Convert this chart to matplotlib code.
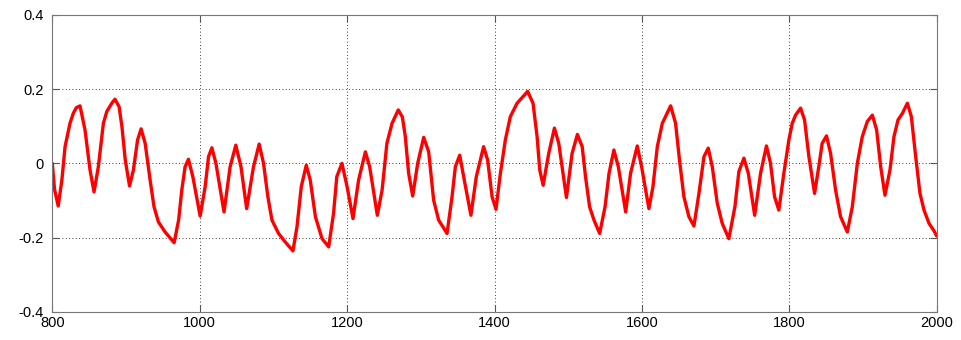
import matplotlib
matplotlib.use("Agg")
import matplotlib.pyplot as plt

years = [800, 803, 808, 813, 817.3, 824, 828.5, 832.5, 837.6, 844.4, 851.2, 856.6, 862.5, 869.3,
         874, 880.7, 885, 890.6, 894.5, 899, 904.8, 910, 915.7, 920.5, 926, 932.7, 938, 944, 953,
         965.3, 971.4, 975.7, 980.2, 984.7, 990.7, 1000.6, 1007.4, 1012, 1016.5, 1022, 1033,
         1041.3, 1049, 1056, 1063.7, 1073, 1080.7, 1086.6, 1092.5, 1098, 1107, 1116, 1126.5, 1132,
         1137.8, 1144.6, 1150, 1157, 1166, 1175, 1181.6, 1186, 1193, 1200, 1208, 1215.6, 1224.8,
         1230.6, 1241, 1247.5, 1254, 1261, 1269.4, 1275, 1279, 1283.5, 1289, 1295.8, 1303.9,
         1310.7, 1317.4, 1324.2, 1335.6, 1342.4, 1346.9, 1352.8, 1359, 1368, 1375.3, 1385.2,
         1390.7, 1396.7, 1402, 1408, 1414.7, 1421.5, 1430.6, 1445, 1452.3, 1457.8, 1461.4, 1466,
         1473.6, 1481.3, 1487.2, 1497.6, 1505.3, 1512.5, 1519, 1523.5, 1529, 1535, 1542.7, 1550,
         1555.4, 1562, 1568, 1578, 1584.6, 1593.7, 1599.6, 1609.5, 1615, 1620.9, 1627.7, 1639,
         1645.7, 1651, 1657, 1663.8, 1670.6, 1677.4, 1684.2, 1690, 1695.5, 1702.3, 1709, 1718,
         1726.2, 1731.6, 1738.4, 1744.4, 1753, 1761, 1769, 1774.5, 1780, 1785.8, 1792.6, 1799.4,
         1804, 1808.5, 1815.3, 1820.7, 1826.6, 1834.3, 1840, 1844.6, 1850.5, 1856, 1862.8, 1869.6,
         1878.7, 1885.5, 1892.3, 1899, 1905.9, 1912.7, 1918.5, 1924, 1929.8, 1936.6, 1942, 1947.5,
         1953.5, 1960.2, 1965.6, 1971.5, 1977.3, 1982.8, 1989.6, 1996.4, 2000]

values = [0.0, -0.07, -0.115, -0.045, 0.045, 0.108, 0.135, 0.15, 0.155, 0.09, -0.018, -0.077,
          -0.009, 0.108, 0.14, 0.162, 0.173, 0.153, 0.099, 0.009, -0.061, -0.018, 0.063, 0.093,
          0.054, -0.045, -0.117, -0.158, -0.185, -0.214, -0.153, -0.072, -0.009, 0.011, -0.036,
          -0.142, -0.063, 0.018, 0.042, 0.0, -0.131, -0.009, 0.049, -0.009, -0.122, -0.009, 0.052,
          0.0, -0.09, -0.153, -0.189, -0.212, -0.236, -0.171, -0.063, -0.005, -0.045, -0.144,
          -0.203, -0.225, -0.135, -0.036, 0.0, -0.063, -0.149, -0.045, 0.031, -0.009, -0.14,
          -0.072, 0.054, 0.108, 0.144, 0.125, 0.072, -0.027, -0.088, 0.0, 0.07, 0.031, -0.099,
          -0.153, -0.189, -0.09, -0.009, 0.022, -0.045, -0.14, -0.036, 0.045, 0.009, -0.09,
          -0.124, -0.027, 0.063, 0.126, 0.162, 0.194, 0.162, 0.072, -0.018, -0.059, 0.027, 0.095,
          0.054, -0.092, 0.027, 0.078, 0.045, -0.036, -0.117, -0.153, -0.189, -0.117, -0.027,
          0.036, -0.009, -0.131, -0.027, 0.047, -0.009, -0.122, -0.063, 0.045, 0.108, 0.155,
          0.108, 0.009, -0.09, -0.144, -0.169, -0.081, 0.018, 0.041, -0.009, -0.108, -0.162,
          -0.203, -0.117, -0.022, 0.014, -0.027, -0.14, -0.027, 0.047, 0.0, -0.09, -0.126, -0.027,
          0.063, 0.108, 0.13, 0.149, 0.117, 0.018, -0.081, -0.009, 0.054, 0.074, 0.027, -0.072,
          -0.144, -0.185, -0.117, 0.0, 0.072, 0.113, 0.13, 0.09, -0.009, -0.086, -0.018, 0.072,
          0.117, 0.135, 0.162, 0.126, 0.018, -0.081, -0.126, -0.162, -0.182, -0.196]

xticks = [800, 1000, 1200, 1400, 1600, 1800, 2000]
yticks = [-0.4, -0.2, 0, 0.2, 0.4]
yticklabels = ["-0.4", "-0.2", "0", "0.2", "0.4"]

plt.rcParams['font.family'] = ['Liberation Sans', 'DejaVu Sans']

fig = plt.figure(figsize=(9.62, 3.40), dpi=100)
ax = fig.add_axes([52.3 / 962, 1 - 311.7 / 340, (936.7 - 52.3) / 962, (311.7 - 15) / 340])
ax.plot(years, values, color='#ff0000', linewidth=2.4, solid_joinstyle='round',
        solid_capstyle='round')
ax.set_xlim(800, 2000)
ax.set_ylim(-0.4, 0.4)
ax.set_xticks(xticks)
ax.set_xticklabels([str(t) for t in xticks])
ax.set_yticks(yticks)
ax.set_yticklabels(yticklabels)
ax.grid(True, linestyle=(0, (1, 3)), color='#000000', linewidth=0.6)
ax.tick_params(direction='in', length=5, width=0.8, colors='#555555', labelcolor='black',
               labelsize=10.5, top=True, right=True)
ax.tick_params(axis='y', pad=6)
ax.tick_params(axis='x', pad=3)
for s in ax.spines.values():
    s.set_color('#777777')
    s.set_linewidth(0.8)
fig.savefig('out.png', dpi=100)
